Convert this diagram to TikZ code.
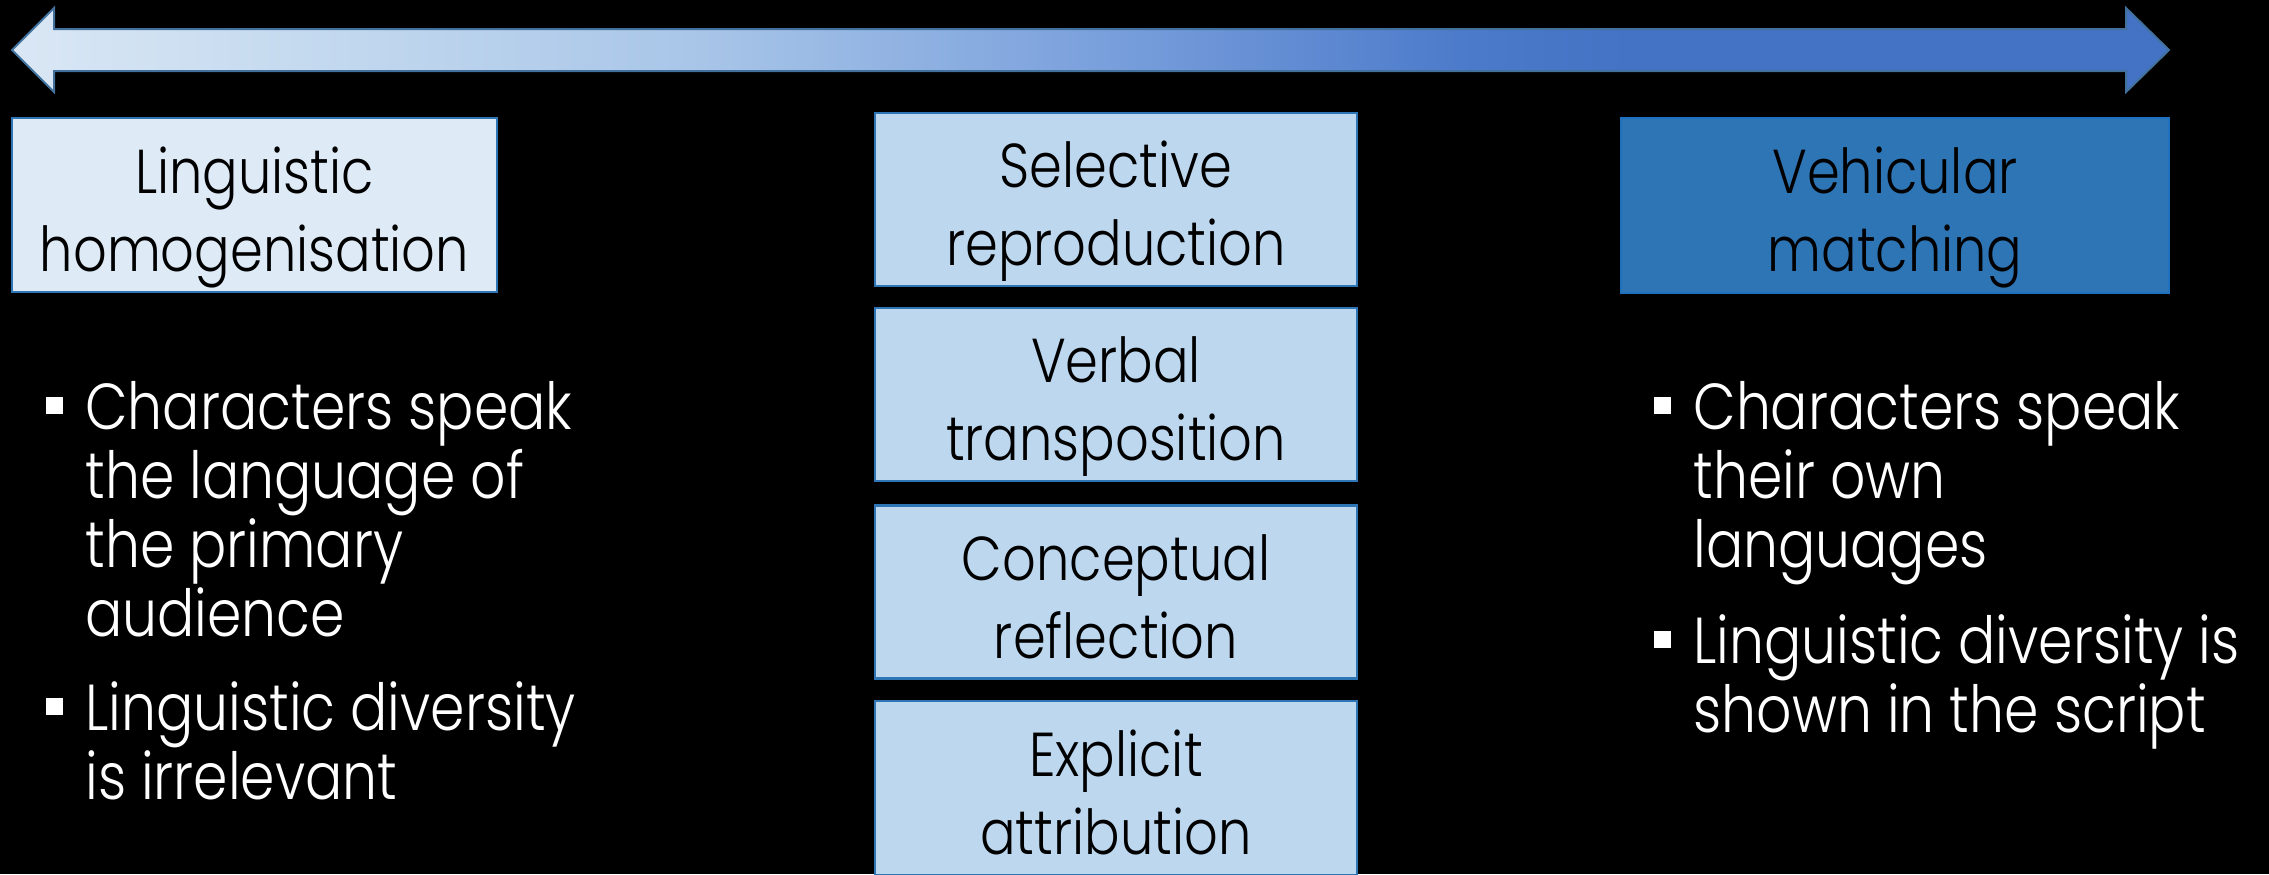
\documentclass[tikz,border=0pt]{standalone}
\usepackage{fontspec}
\setmainfont{Poppins Light}[FakeStretch=0.85]
\usepackage{tikz}

% colours of the scale bar and the boxes
\definecolor{barA}{HTML}{DAE7F5}
\definecolor{barB}{HTML}{C5DAEF}
\definecolor{barC}{HTML}{A8C5E8}
\definecolor{barD}{HTML}{7AA0DC}
\definecolor{barE}{HTML}{4D7BCB}
\definecolor{barF}{HTML}{4472C4}
\definecolor{barline}{HTML}{41719C}
\definecolor{boxline}{HTML}{2E75B6}
\definecolor{paleblue}{HTML}{DEEBF7}
\definecolor{midblue}{HTML}{BDD7EE}
\definecolor{deepblue}{HTML}{2E75B6}
\definecolor{deepline}{HTML}{2070C0}

\pgfdeclarehorizontalshading{scalebar}{100bp}{%
  color(0bp)=(barA); color(25bp)=(barA); color(31.7bp)=(barB);
  color(41bp)=(barC); color(50.2bp)=(barD); color(58.5bp)=(barE);
  color(62.5bp)=(barF); color(100bp)=(barF)}

\newcommand{\lines}[1]{\parbox[t]{300pt}{\raggedright #1}}

\tikzset{
  box/.style={rectangle, draw=boxline, line width=1.2pt, align=center,
    inner sep=0pt, text height=66pt, text depth=0pt, text=black,
    font=\fontsize{31}{39}\selectfont},
  pointtext/.style={anchor=base west, inner sep=0pt, text=white,
    font=\fontsize{32.5}{34.5}\selectfont},
  square/.style={rectangle, fill=white, inner sep=0pt, minimum size=8.5pt}
}

\begin{document}
\begin{tikzpicture}[x=0.5pt,y=-0.5pt]
	\fill[black] (0,0) rectangle (2269,874);
	\useasboundingbox (0,0) rectangle (2269,874);

	% the scale running from one end to the other
	\shadedraw[shading=scalebar, draw=barline, line width=1pt]
		(12,50) -- (54,8) -- (54,29) -- (2126,29) -- (2126,8) -- (2169,50)
		-- (2126,92) -- (2126,71) -- (54,71) -- (54,92) -- cycle;

	% the two ends
	\node[box, fill=paleblue, minimum width=242.5pt, minimum height=87pt] (homog) at (254.5,205) {Linguistic\\homogenisation};
	\node[box, fill=deepblue, draw=deepline, minimum width=274pt, minimum height=87.5pt] (vehic) at (1895,205.5) {Vehicular\\matching};

	% the strategies in between
	\node[box, fill=midblue, minimum width=241pt, minimum height=86.5pt] (selec) at (1116,199.5) {Selective\\reproduction};
	\node[box, fill=midblue, minimum width=241pt, minimum height=86.5pt] (verba) at (1116,394.5) {Verbal\\transposition};
	\node[box, fill=midblue, minimum width=241pt, minimum height=86.5pt] (conce) at (1116,592) {Conceptual\\reflection};
	\node[box, fill=midblue, minimum width=241pt, minimum height=87pt] (expli) at (1116,788) {Explicit\\attribution};

	% points under the left end
	\node[square] (lsq1) at (54,405.5) {};
	\node[pointtext] (lpt1) at (85,429) {\lines{Characters speak\\the language of\\the primary\\audience}};
	\node[square] (lsq2) at (54,706.5) {};
	\node[pointtext] (lpt2) at (85,730) {\lines{Linguistic diversity\\is irrelevant}};

	% points under the right end
	\node[square] (rsq1) at (1662,405.5) {};
	\node[pointtext] (rpt1) at (1693,429) {\lines{Characters speak\\their own\\languages}};
	\node[square] (rsq2) at (1662,639.5) {};
	\node[pointtext] (rpt2) at (1693,663) {\lines{Linguistic diversity is\\shown in the script}};
\end{tikzpicture}
\end{document}
